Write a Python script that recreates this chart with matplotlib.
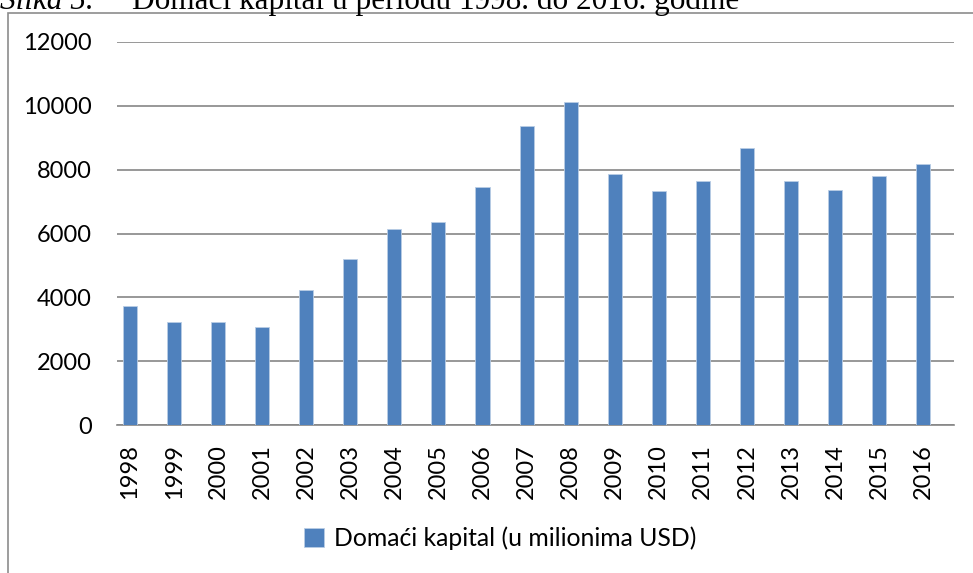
import matplotlib.pyplot as plt
from matplotlib.patches import Rectangle

godine = ["1998", "1999", "2000", "2001", "2002", "2003", "2004", "2005", "2006", "2007",
          "2008", "2009", "2010", "2011", "2012", "2013", "2014", "2015", "2016"]
kapital = [3730, 3220, 3230, 3070, 4230, 5195, 6155, 6355, 7450, 9370,
           10125, 7850, 7345, 7660, 8685, 7640, 7370, 7800, 8170]
yticks = [0, 2000, 4000, 6000, 8000, 10000, 12000]

plt.rcParams['font.family'] = ['Lato', 'DejaVu Sans']

fig = plt.figure(figsize=(9.73, 5.73), dpi=100)
W, H = 973, 573

# okvir grafikona (djelimično odsječen)
fig.patches.append(Rectangle((8 / W, -0.5), 2.0, 1 - 12.5 / H + 0.5, transform=fig.transFigure,
                             fill=False, edgecolor="#8c8c8c", linewidth=1.2, figure=fig))

# naslov slike, odsječen na vrhu kao u izvorniku
fig.text(0 / W, 1 - 9 / H, "Slika 5.", family="Liberation Serif", style="italic",
         fontsize=22.5, va="baseline")
fig.text(132 / W, 1 - 9 / H, "Domaći kapital u periodu 1998. do 2016. godine",
         family="Liberation Serif", fontsize=22.5, va="baseline")

ax = fig.add_axes([117 / W, 1 - 425 / H, 837 / W, (425 - 42) / H])
x = range(len(godine))
ax.bar(x, kapital, width=0.32, color="#4f81bd", edgecolor="#b9cde5", linewidth=0.6,
       label="Domaći kapital (u milionima USD)", zorder=3)

ax.set_ylim(0, 12000)
ax.set_xlim(-0.295, 18.7)
ax.set_yticks(yticks)
ax.set_xticks(list(x))
ax.set_xticklabels(godine, rotation=90)
ax.tick_params(axis="y", length=0, labelsize=17, pad=18)
ax.tick_params(axis="x", length=0, labelsize=17, pad=14)
ax.grid(axis="y", color="#868686", linewidth=1.2, zorder=0)
for s in ["top", "right", "left"]:
    ax.spines[s].set_visible(False)
ax.spines["bottom"].set_color("#868686")
ax.spines["bottom"].set_linewidth(1.2)

fig.legend(loc="center", bbox_to_anchor=(500 / W, 1 - 538 / H), frameon=False,
           fontsize=17.8, handlelength=0.8, handleheight=0.8, handletextpad=0.4)

fig.savefig("out.png", dpi=100)
